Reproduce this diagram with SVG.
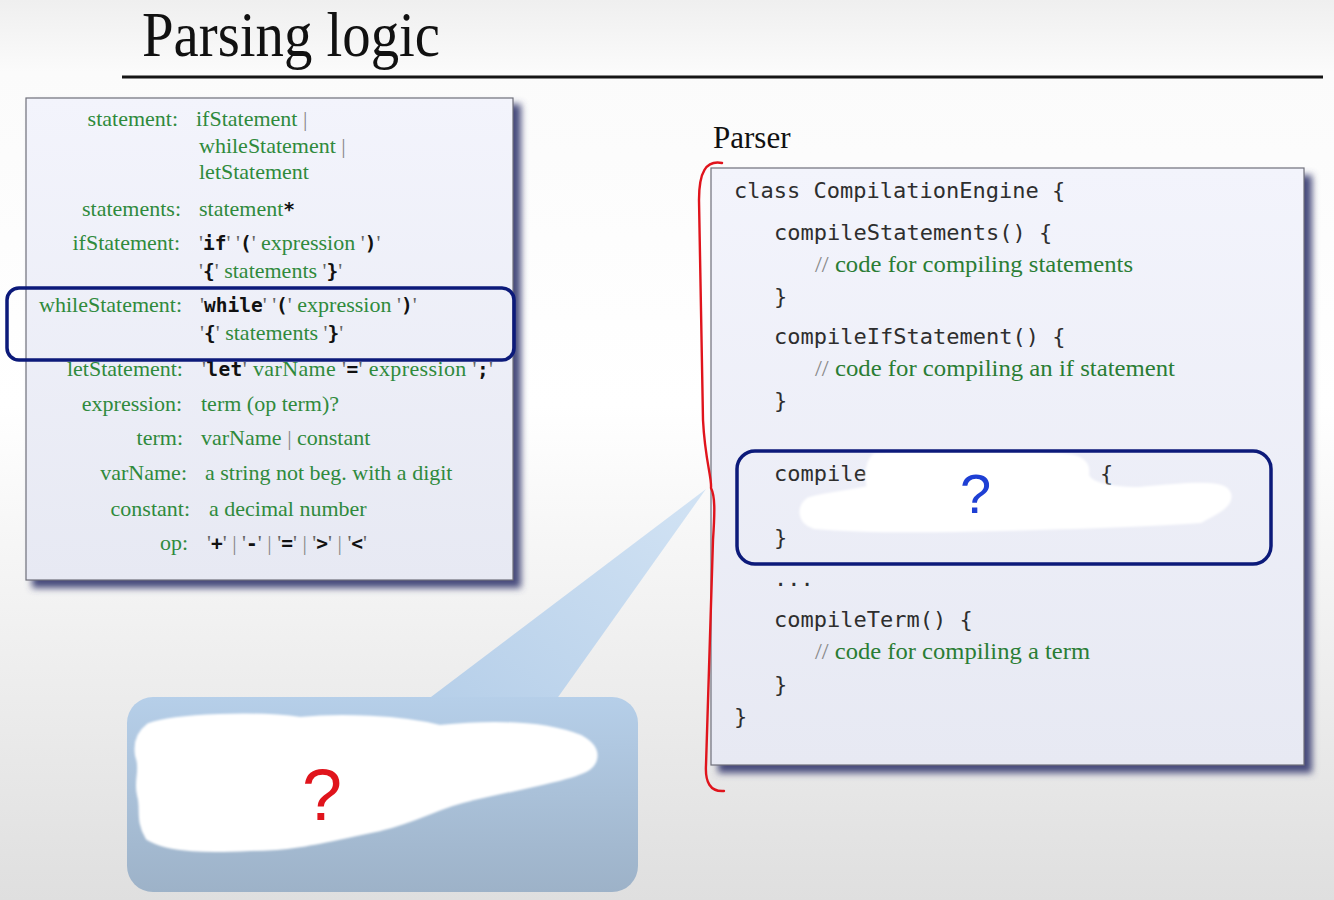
<svg xmlns="http://www.w3.org/2000/svg" width="1334" height="900" viewBox="0 0 1334 900">
<defs>
<linearGradient id="bg" x1="0" y1="0" x2="0" y2="1">
<stop offset="0" stop-color="#efefef"/>
<stop offset="0.08" stop-color="#fbfbfb"/>
<stop offset="0.45" stop-color="#ffffff"/>
<stop offset="1" stop-color="#dfdfdf"/>
</linearGradient>
<linearGradient id="boxfill" x1="0" y1="0" x2="0" y2="1">
<stop offset="0" stop-color="#f3f4fc"/>
<stop offset="1" stop-color="#e7e9f3"/>
</linearGradient>
<linearGradient id="bubblefill" x1="0" y1="0" x2="0" y2="1">
<stop offset="0" stop-color="#b6cfe9"/>
<stop offset="1" stop-color="#9db2c8"/>
</linearGradient>
<linearGradient id="tailfill" x1="1" y1="0" x2="0" y2="1">
<stop offset="0" stop-color="#d2e3f4"/>
<stop offset="1" stop-color="#b6cfe9"/>
</linearGradient>
<filter id="blur" x="-10%" y="-10%" width="120%" height="120%">
<feGaussianBlur stdDeviation="3.5"/>
</filter>
<filter id="soft" x="-10%" y="-10%" width="120%" height="120%">
<feGaussianBlur stdDeviation="1.2"/>
</filter>
<style>
.g{font-family:"Liberation Serif","Times New Roman",serif;font-size:22px;fill:#2f8a3c}
.lab{text-anchor:end}
.q{fill:#666}
.bar{fill:#888}
.mb{font-family:"DejaVu Sans Mono","Liberation Mono",monospace;font-weight:bold;font-size:19.5px;fill:#111}
.code{font-family:"DejaVu Sans Mono","Liberation Mono",monospace;font-size:22px;fill:#2e2e2e}
.cm{font-family:"Liberation Serif","Times New Roman",serif;font-size:24px;fill:#2a7d34}
.sl{fill:#888}
.box{fill:url(#boxfill);stroke:#6f6f7a;stroke-width:1.2}
.shadow{fill:#474c7c;filter:url(#blur)}
.hl{fill:none;stroke:#0c1a7a;stroke-width:3.5}
.scrib{fill:#ffffff;stroke:#ffffff;stroke-width:10;stroke-linejoin:round;filter:url(#soft)}
</style>
</defs>

<rect x="0" y="0" width="1334" height="900" fill="url(#bg)"/>

<g id="title">
<text x="142" y="56" font-family="Liberation Serif,'Times New Roman',serif" font-size="63" fill="#111" textLength="298" lengthAdjust="spacingAndGlyphs">Parsing logic</text>
<line x1="122" y1="77" x2="1323" y2="77" stroke="#151515" stroke-width="3"/>
</g>

<g id="grammar-box">
<rect class="shadow" x="32" y="104" width="489" height="484"/>
<rect class="box" x="26" y="98" width="487" height="482"/>
<text class="g lab" x="178" y="126">statement:</text>
<text class="g" x="196" y="126">ifStatement <tspan class="bar">|</tspan></text>
<text class="g" x="199" y="153">whileStatement <tspan class="bar">|</tspan></text>
<text class="g" x="199" y="179">letStatement</text>
<text class="g lab" x="181" y="216">statements:</text>
<text class="g" x="199" y="216">statement<tspan class="mb">*</tspan></text>
<text class="g lab" x="180" y="250">ifStatement:</text>
<text class="g" x="199" y="250"><tspan class="q">'</tspan><tspan class="mb">if</tspan><tspan class="q">' '</tspan><tspan class="mb">(</tspan><tspan class="q">'</tspan> expression <tspan class="q">'</tspan><tspan class="mb">)</tspan><tspan class="q">'</tspan></text>
<text class="g" x="199" y="278"><tspan class="q">'</tspan><tspan class="mb">{</tspan><tspan class="q">'</tspan> statements <tspan class="q">'</tspan><tspan class="mb">}</tspan><tspan class="q">'</tspan></text>
<text class="g lab" x="182" y="312">whileStatement:</text>
<text class="g" x="200" y="312"><tspan class="q">'</tspan><tspan class="mb">while</tspan><tspan class="q">' '</tspan><tspan class="mb">(</tspan><tspan class="q">'</tspan> expression <tspan class="q">'</tspan><tspan class="mb">)</tspan><tspan class="q">'</tspan></text>
<text class="g" x="200" y="340"><tspan class="q">'</tspan><tspan class="mb">{</tspan><tspan class="q">'</tspan> statements <tspan class="q">'</tspan><tspan class="mb">}</tspan><tspan class="q">'</tspan></text>
<text class="g lab" x="183" y="376">letStatement:</text>
<text class="g" x="202" y="376" textLength="291"><tspan class="q">'</tspan><tspan class="mb">let</tspan><tspan class="q">'</tspan> varName <tspan class="q">'</tspan><tspan class="mb">=</tspan><tspan class="q">'</tspan> expression <tspan class="q">'</tspan><tspan class="mb">;</tspan><tspan class="q">'</tspan></text>
<text class="g lab" x="182" y="411">expression:</text>
<text class="g" x="201" y="411">term (op term)?</text>
<text class="g lab" x="183" y="445">term:</text>
<text class="g" x="201" y="445">varName <tspan class="bar">|</tspan> constant</text>
<text class="g lab" x="187" y="480">varName:</text>
<text class="g" x="205" y="480">a string not beg. with a digit</text>
<text class="g lab" x="190" y="516">constant:</text>
<text class="g" x="209" y="516">a decimal number</text>
<text class="g lab" x="188" y="550">op:</text>
<text class="g" x="207" y="550"><tspan class="q">'</tspan><tspan class="mb">+</tspan><tspan class="q">'</tspan> <tspan class="bar">|</tspan> <tspan class="q">'</tspan><tspan class="mb">-</tspan><tspan class="q">'</tspan> <tspan class="bar">|</tspan> <tspan class="q">'</tspan><tspan class="mb">=</tspan><tspan class="q">'</tspan> <tspan class="bar">|</tspan> <tspan class="q">'</tspan><tspan class="mb">&gt;</tspan><tspan class="q">'</tspan> <tspan class="bar">|</tspan> <tspan class="q">'</tspan><tspan class="mb">&lt;</tspan><tspan class="q">'</tspan></text>
</g>

<g id="while-highlight">
<rect class="hl" x="7" y="288" width="507" height="72" rx="12"/>
</g>

<g id="callout">
<polygon points="427,700 556,700 706,489" fill="url(#tailfill)"/>
<rect x="127" y="697" width="511" height="195" rx="26" fill="url(#bubblefill)"/>
<path class="scrib" d="M150,728 C175,718 260,716 300,722 C340,718 400,720 440,730 C480,726 540,724 580,740 C598,750 596,764 578,770 C560,778 520,784 470,796 C440,802 420,816 380,826 C340,834 300,846 250,846 C210,848 170,848 150,836 C140,820 146,808 142,795 C138,780 146,770 140,755 C138,742 142,734 150,728 Z"/>
<text x="302" y="820" font-family="Liberation Sans,Arial,sans-serif" font-size="72" fill="#e0141c">?</text>
</g>

<g id="parser-label">
<text x="713" y="148" font-family="Liberation Serif,'Times New Roman',serif" font-size="31" fill="#111">Parser</text>
</g>

<g id="parser-box">
<rect class="shadow" x="718" y="175" width="594" height="598"/>
<rect class="box" x="711" y="168" width="593" height="597"/>
<text class="code" x="734" y="198">class CompilationEngine {</text>
<text class="code" x="774" y="240">compileStatements() {</text>
<text class="cm" x="815" y="272" textLength="318" lengthAdjust="spacingAndGlyphs"><tspan class="sl">//</tspan> code for compiling statements</text>
<text class="code" x="774" y="304">}</text>
<text class="code" x="774" y="344">compileIfStatement() {</text>
<text class="cm" x="815" y="376" textLength="360" lengthAdjust="spacingAndGlyphs"><tspan class="sl">//</tspan> code for compiling an if statement</text>
<text class="code" x="774" y="408">}</text>
<text class="code" x="774" y="481">compile</text>
<text class="code" x="1100" y="481">{</text>
<text class="code" x="774" y="545">}</text>
<text class="code" x="774" y="586">...</text>
<text class="code" x="774" y="627">compileTerm() {</text>
<text class="cm" x="815" y="659" textLength="275" lengthAdjust="spacingAndGlyphs"><tspan class="sl">//</tspan> code for compiling a term</text>
<text class="code" x="774" y="692">}</text>
<text class="code" x="734" y="724">}</text>
<path class="scrib" d="M876,458 C920,454 1000,456 1060,458 C1078,459 1086,464 1084,474 C1084,484 1100,492 1140,492 C1180,488 1222,484 1226,494 C1230,504 1210,512 1200,518 C1150,522 1080,524 1000,526 C930,528 860,528 815,524 C802,520 802,508 810,502 C830,496 860,494 872,490 C870,480 868,466 876,458 Z"/>
<text x="960" y="513" font-family="Liberation Sans,Arial,sans-serif" font-size="56" fill="#1e3fd4">?</text>
</g>

<g id="compile-highlight">
<rect class="hl" x="737" y="451" width="534" height="113" rx="18"/>
</g>

<g id="connectors">
<path d="M722,163 C706,160 699,172 699,200 L703,420 C705,460 712,478 711,488 C715,496 715,510 713,540 L706,765 C705,782 710,792 724,791" fill="none" stroke="#e0141c" stroke-width="2.4" stroke-linecap="round" stroke-linejoin="round"/>
</g>
</svg>
